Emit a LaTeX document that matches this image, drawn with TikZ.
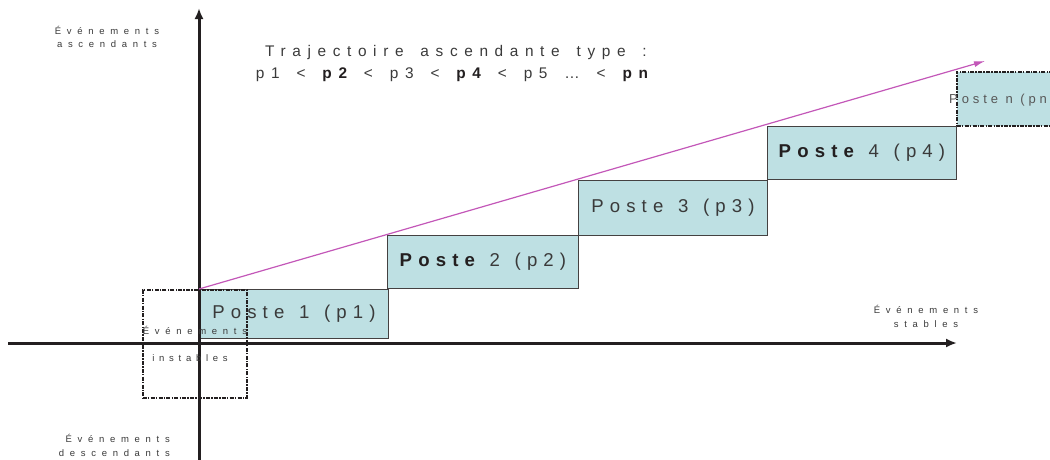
\documentclass[tikz,border=0pt]{standalone}
\usepackage{fontspec}
\setmainfont{Liberation Sans}
\newfontfamily\lssmall[LetterSpace=60]{Liberation Sans}
\newfontfamily\lsinst[LetterSpace=50]{Liberation Sans}
\newfontfamily\lsbox[LetterSpace=33,WordSpace=1.3]{Liberation Sans}
\newfontfamily\lsboxn[LetterSpace=30]{Liberation Sans}
\newfontfamily\lstitle[LetterSpace=43,WordSpace=1.55]{Liberation Sans}
\usetikzlibrary{arrows.meta}
\definecolor{boxfill}{HTML}{BEE0E3}
\definecolor{traj}{HTML}{C357B8}
\definecolor{ink}{HTML}{231F20}
\definecolor{txt}{HTML}{3A3A3A}
\begin{document}
\begin{tikzpicture}[x=1pt,y=-1pt,
  poste/.style={draw=ink!85, line width=0.9pt, fill=boxfill, inner sep=0pt, anchor=north west,
    font=\lsbox\fontsize{18.6}{20}\selectfont, text=txt},
  dashdot/.style={draw=ink, line width=1.5pt, dash pattern=on 4pt off 1.2pt on 1.5pt off 1.2pt},
  small/.style={font=\lssmall\fontsize{9.5}{13}\selectfont, text=txt, inner sep=0pt, align=center},
  titre/.style={font=\lstitle\fontsize{15.4}{22}\selectfont, text=txt, inner sep=0pt, anchor=base},
  axis/.style={line width=3pt, draw=ink, -{Latex[length=11pt,width=9pt]}},
  trajline/.style={line width=1.2pt, draw=traj, -{Latex[length=11pt,width=6pt]}}
]
\useasboundingbox (0,0) rectangle (1050,459);
\clip (0,0) rectangle (1050,459);

% boxes
\node[poste, minimum width=189pt, minimum height=49pt] (p1) at (199,289) {Poste 1 (p1)};
\node[poste, minimum width=191pt, minimum height=53pt] (p2) at (387,235) {{\bfseries\color{ink}Poste} 2 (p2)};
\node[poste, minimum width=189pt, minimum height=55pt] (p3) at (578,180) {Poste 3 (p3)};
\node[poste, minimum width=189pt, minimum height=53pt] (p4) at (767,126) {{\bfseries\color{ink}Poste} 4 (p4)};
\node[poste, dashdot, minimum width=120pt, minimum height=54pt] (pn) at (956,71) {};
\node[anchor=west, inner sep=0pt, font=\lsboxn\fontsize{13}{15}\selectfont, text=txt!85] (pnt) at (949,100) {Poste n (pn)};

% unstable zone
\node[dashdot, anchor=north west, minimum width=104pt, minimum height=108pt, inner sep=0pt] (inst) at (142,289) {};

% axes
\coordinate (vb) at (199,470);
\coordinate (vt) at (199,8);
\coordinate (hl) at (8,343);
\coordinate (hr) at (957,343);
\draw[axis] (vb) -- (vt);
\draw[axis] (hl) -- (hr);

% trajectory
\coordinate (tend) at (985,61);
\draw[trajline] (p1.north west) -- (tend);

% labels
\node[small] (asc) at (107,37) {Événements\\ascendants};
\node[small, align=right, anchor=east] (desc) at (170,445) {Événements\\[1pt]descendants};
\node[small] (stab) at (926,316) {Événements\\[1pt]stables};
\node[small] (instl) at (195,330) {Événements};
\node[small, font=\lsinst\fontsize{9.5}{13}\selectfont] (inst2) at (190,358) {instables};

\node[titre] (t1) at (456,56) {Trajectoire ascendante type :};
\node[titre] (t2) at (452,78) {p1 < {\bfseries\color{ink}p2} < p3 < {\bfseries\color{ink}p4} < p5 … < {\bfseries\color{ink}pn}};
\end{tikzpicture}
\end{document}
